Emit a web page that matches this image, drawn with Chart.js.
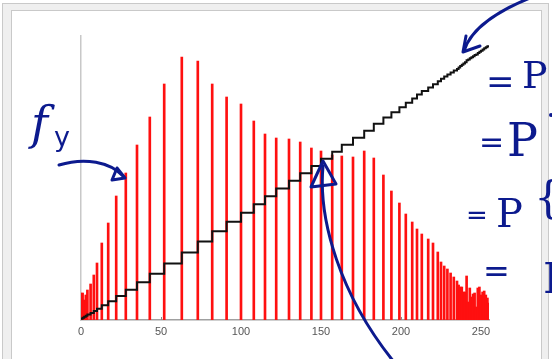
<!doctype html>
<html lang="en">
<head>
  <meta charset="utf-8">
  <title>Histogram with cumulative curve</title>
  <script src="https://cdn.jsdelivr.net/npm/chart.js"></script>
  <style>
    html, body { margin: 0; padding: 0; background: #fff; overflow: hidden; }
    #wrap { position: relative; width: 552px; height: 359px; }
    .outer { position: absolute; left: 2px; top: 3px; width: 545px; height: 400px; border: 1px solid #c9c9c9; background: #efefef; }
    .inner { position: absolute; left: 11px; top: 10px; width: 529px; height: 400px; border: 1px solid #c9c9c9; background: #fff; }
    canvas { position: absolute; left: 0; top: 0; }
  </style>
</head>
<body>
  <div id="wrap">
    <div class="outer"></div>
    <div class="inner"></div>
    <canvas id="histChart" width="552" height="359"></canvas>
  </div>
  <script>
    // grey levels that are occupied after equalisation
    const levels = [0, 1, 2, 3, 4, 6, 8, 10, 13, 17, 22, 28, 35, 43, 52, 63, 73, 82, 91, 100,
      108, 115, 122, 130, 137, 144, 150, 157, 163, 170, 177, 183, 189, 194, 199, 203, 207, 210,
      213, 217, 220, 223, 225, 227, 229, 231, 233, 235, 236, 237, 238, 239, 240, 241, 242, 243,
      244, 245, 246, 247, 248, 249, 250, 251, 252, 253, 254, 255];
    // histogram counts f_y
    const counts = [27, 27, 20, 25, 30, 36, 45, 57, 77, 97, 124, 147, 175, 203, 236, 263, 259, 236, 223, 216,
      199, 186, 182, 181, 178, 172, 169, 165, 164, 163, 169, 162, 145, 129, 117, 106, 98, 91,
      86, 81, 77, 68, 58, 54, 51, 47, 43, 39, 35, 33, 33, 28, 28, 44, 18, 32,
      23, 26, 27, 13, 32, 33, 25, 28, 29, 25, 22, 17];
    // cumulative curve (black steps), same units
    const cumulative = [27, 54, 74, 99, 129, 165, 210, 267, 344, 441, 565, 712, 887, 1090, 1326, 1589, 1848, 2084, 2307, 2523,
      2722, 2908, 3090, 3271, 3449, 3621, 3790, 3955, 4119, 4282, 4451, 4613, 4758, 4887, 5004, 5110, 5208, 5299,
      5385, 5466, 5543, 5611, 5669, 5723, 5774, 5821, 5864, 5903, 5938, 5971, 6004, 6032, 6060, 6104, 6122, 6154,
      6177, 6203, 6230, 6243, 6275, 6308, 6333, 6361, 6390, 6415, 6437, 6454];
    const xTickValues = [0, 50, 100, 150, 200, 250];

    const INK = '#0c1a8e';

    const histPoints = levels.map((v, i) => ({ x: v, y: counts[i] }));
    const cdfPoints = levels.map((v, i) => ({ x: v, y: cumulative[i] }));

    // little inward tick marks on the x axis
    const innerTicks = {
      id: 'innerTicks',
      beforeDatasetsDraw(chart) {
        const ctx = chart.ctx, sx = chart.scales.x, bottom = chart.chartArea.bottom;
        ctx.save();
        ctx.strokeStyle = '#888';
        ctx.lineWidth = 1;
        xTickValues.slice(1).forEach(v => {
          const px = Math.round(sx.getPixelForValue(v)) + 0.5;
          ctx.beginPath();
          ctx.moveTo(px, bottom);
          ctx.lineTo(px, bottom - 3);
          ctx.stroke();
        });
        ctx.restore();
      }
    };

    // handwritten notes on top of the plot
    const inkNotes = {
      id: 'inkNotes',
      afterDraw(chart) {
        const ctx = chart.ctx;
        ctx.save();
        ctx.strokeStyle = INK;
        ctx.fillStyle = INK;
        ctx.lineWidth = 3;
        ctx.lineCap = 'round';
        ctx.lineJoin = 'round';

        // arrow to f_y
        ctx.beginPath();
        ctx.moveTo(59, 165);
        ctx.bezierCurveTo(85, 157, 110, 162, 123, 176);
        ctx.stroke();
        ctx.beginPath();
        ctx.moveTo(117, 168); ctx.lineTo(125, 178); ctx.lineTo(112, 180); ctx.closePath();
        ctx.stroke();

        // arrow to the top of the cumulative curve
        ctx.beginPath();
        ctx.moveTo(530, -2);
        ctx.bezierCurveTo(500, 10, 471, 28, 464, 51);
        ctx.stroke();
        ctx.beginPath();
        ctx.moveTo(466, 36); ctx.lineTo(463, 52); ctx.lineTo(480, 46);
        ctx.stroke();

        // arrow from below to the curve near 150
        ctx.beginPath();
        ctx.moveTo(394, 362);
        ctx.bezierCurveTo(340, 295, 318, 220, 323, 166);
        ctx.stroke();
        ctx.beginPath();
        ctx.moveTo(323, 161); ctx.lineTo(311, 187); ctx.lineTo(336, 184); ctx.closePath();
        ctx.stroke();

        // labels
        ctx.textBaseline = 'alphabetic';
        ctx.textAlign = 'left';
        ctx.font = 'italic 46px "DejaVu Serif"';
        ctx.fillText('f', 31, 139);
        ctx.font = '27px "DejaVu Sans"';
        ctx.fillText('y', 54, 146);

        ctx.font = '34px "DejaVu Sans"';
        ctx.fillText('=', 486, 93);
        ctx.font = '38px "DejaVu Serif"';
        ctx.fillText('P', 522, 88);

        ctx.beginPath();
        ctx.arc(551, 115, 2, 0, Math.PI * 2);
        ctx.fill();

        ctx.font = '30px "DejaVu Sans"';
        ctx.fillText('=', 479, 152);
        ctx.font = '46px "DejaVu Serif"';
        ctx.fillText('P', 507, 156);

        ctx.font = '26px "DejaVu Sans"';
        ctx.fillText('=', 466, 224);
        ctx.font = '40px "DejaVu Serif"';
        ctx.fillText('P', 496, 227);
        ctx.font = '44px "DejaVu Serif"';
        ctx.fillText('{', 534, 213);

        ctx.font = '32px "DejaVu Sans"';
        ctx.fillText('=', 483, 282);
        ctx.font = '42px "DejaVu Serif"';
        ctx.fillText('F', 543, 293);
        ctx.restore();
      }
    };

    const histChart = new Chart(document.getElementById('histChart'), {
      type: 'bar',
      data: {
        datasets: [
          {
            type: 'line',
            data: cdfPoints,
            yAxisID: 'y1',
            borderColor: '#111',
            borderWidth: 2,
            pointRadius: 0,
            stepped: true,
            fill: false,
            order: 0
          },
          {
            type: 'bar',
            data: histPoints,
            yAxisID: 'y',
            backgroundColor: '#ff1010',
            borderWidth: 0,
            barThickness: 2,
            order: 1
          }
        ]
      },
      options: {
        responsive: false,
        animation: false,
        layout: { padding: { left: 81, right: 63, top: 36, bottom: 0 } },
        plugins: { legend: { display: false }, tooltip: { enabled: false } },
        scales: {
          x: {
            type: 'linear',
            min: 0,
            max: 255,
            offset: false,
            afterBuildTicks: s => { s.ticks = xTickValues.map(v => ({ value: v })); },
            afterFit: s => { s.height = 39; },
            grid: { display: false, drawTicks: false },
            border: { display: true, color: '#a0a0a0', width: 1.5 },
            ticks: { color: '#555', font: { family: 'Liberation Sans', size: 11 }, padding: 5, maxRotation: 0, autoSkip: false }
          },
          y: {
            min: 0,
            max: 284,
            afterFit: s => { s.width = 0; },
            grid: { display: false, drawTicks: false },
            border: { display: true, color: '#c8c8c8', width: 1.5 },
            ticks: { display: false }
          },
          y1: { display: false, min: 0, max: 6677 }
        }
      },
      plugins: [innerTicks, inkNotes]
    });
  </script>
</body>
</html>
